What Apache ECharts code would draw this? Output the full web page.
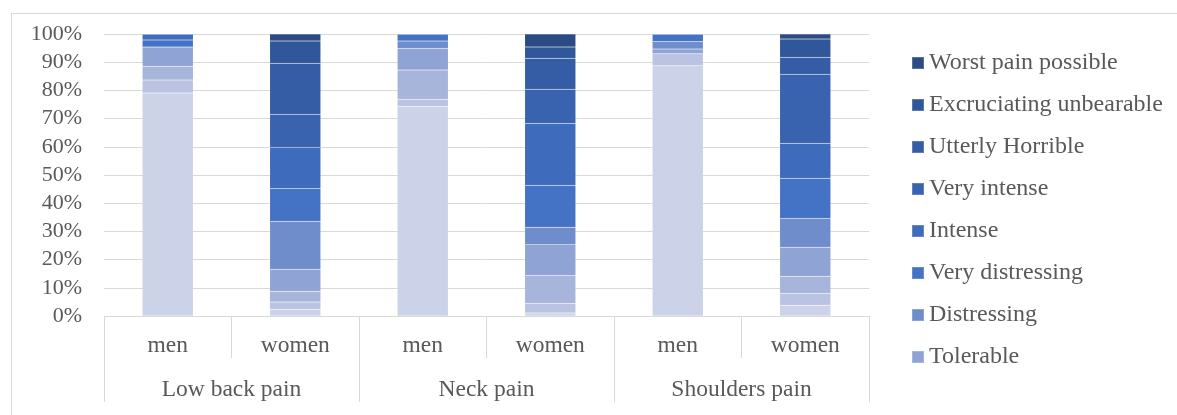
<!DOCTYPE html>
<html>
<head>
<meta charset="utf-8">
<script src="https://cdn.jsdelivr.net/npm/echarts@6/dist/echarts.min.js"></script>
<style>
  html, body { margin: 0; padding: 0; background: #fff; }
  #chart { width: 1177px; height: 415px; position: relative; }
  .frame { position: absolute; left: 11px; top: 13px; width: 1200px; height: 450px; border: 1px solid #d9d9d9; pointer-events: none; }
</style>
</head>
<body>
<div style="position:relative;width:1177px;height:415px;overflow:hidden">
  <div id="chart"></div>
  <div class="frame"></div>
</div>
<script>
// categories
const genders = ['men', 'women', 'men', 'women', 'men', 'women']
const groups = ['Low back pain', 'Neck pain', 'Shoulders pain']
const yTicks = [0, 10, 20, 30, 40, 50, 60, 70, 80, 90, 100]

// pain levels, bottom of the stack first
const levels = ['No pain', 'Very mild', 'Discomforting', 'Tolerable', 'Distressing',
  'Very distressing', 'Intense', 'Very intense', 'Utterly Horrible',
  'Excruciating unbearable', 'Worst pain possible']

// share of respondents (%) per bar
const noPain = [79.1, 2.4, 74.4, 1.1, 88.7, 3.8]
const veryMild = [4.6, 2.6, 2.5, 3.4, 4.3, 4.3]
const discomforting = [4.9, 3.8, 10.3, 9.9, 0, 6.0]
const tolerable = [6.8, 7.8, 7.7, 10.9, 1.7, 10.3]
const distressing = [0, 17.0, 2.6, 6.2, 2.6, 10.2]
const veryDistressing = [2.5, 11.6, 2.5, 14.8, 2.7, 14.2]
const intense = [2.1, 14.6, 0, 22.0, 0, 12.4]
const veryIntense = [0, 11.7, 0, 12.1, 0, 24.5]
const utterlyHorrible = [0, 18.1, 0, 11.0, 0, 6.0]
const excruciating = [0, 7.9, 0, 4.0, 0, 6.5]
const worstPain = [0, 2.5, 0, 4.6, 0, 1.8]

const values = [noPain, veryMild, discomforting, tolerable, distressing, veryDistressing,
  intense, veryIntense, utterlyHorrible, excruciating, worstPain]

const colors = ['#ccd3e8', '#bac4e2', '#a7b5db', '#8fa3d5', '#6f8dcb', '#4472c4',
  '#3e6bbc', '#3963af', '#345da5', '#30579a', '#2c4b85']

// only the top 8 fit in the legend
const legendNames = levels.slice(3).reverse()

const font = 'Liberation Serif'
const textColor = '#595959'

const myChart = echarts.init(document.getElementById('chart'))

const option = {
  animation: false,
  grid: { left: 104, right: 308, top: 34, bottom: 99, containLabel: false, outerBoundsMode: 'none' },
  legend: {
    data: legendNames,
    orient: 'vertical',
    left: 906,
    top: 46,
    itemWidth: 12,
    itemHeight: 12,
    itemGap: 18,
    icon: 'rect',
    textStyle: { fontFamily: font, fontSize: 24, color: textColor, lineHeight: 24 }
  },
  xAxis: [
    {
      type: 'category',
      data: genders,
      axisLine: { lineStyle: { color: '#d9d9d9', width: 1 } },
      axisTick: { show: true, interval: 0, length: 42, lineStyle: { color: '#d9d9d9' } },
      axisLabel: { interval: 0, margin: 18, fontFamily: font, fontSize: 23.5, color: textColor }
    },
    {
      type: 'category',
      data: groups,
      position: 'bottom',
      axisLine: { show: false },
      axisTick: { show: true, interval: 0, length: 86, lineStyle: { color: '#d9d9d9' } },
      axisLabel: { interval: 0, margin: 62, fontFamily: font, fontSize: 23.5, color: textColor }
    }
  ],
  yAxis: {
    type: 'value',
    min: yTicks[0],
    max: yTicks[yTicks.length - 1],
    interval: 10,
    axisLine: { show: false },
    axisTick: { show: false },
    splitLine: { lineStyle: { color: '#d9d9d9', width: 1 } },
    axisLabel: { margin: 22, formatter: '{value}%', fontFamily: font, fontSize: 22, color: textColor }
  },
  series: levels.map((name, i) => ({
    name: name,
    type: 'bar',
    stack: 'pain',
    xAxisIndex: 0,
    barWidth: '40%',
    data: values[i],
    itemStyle: { color: colors[i], borderColor: 'rgba(255,255,255,0.2)', borderWidth: 0.5 }
  }))
}

myChart.setOption(option)
</script>
</body>
</html>
